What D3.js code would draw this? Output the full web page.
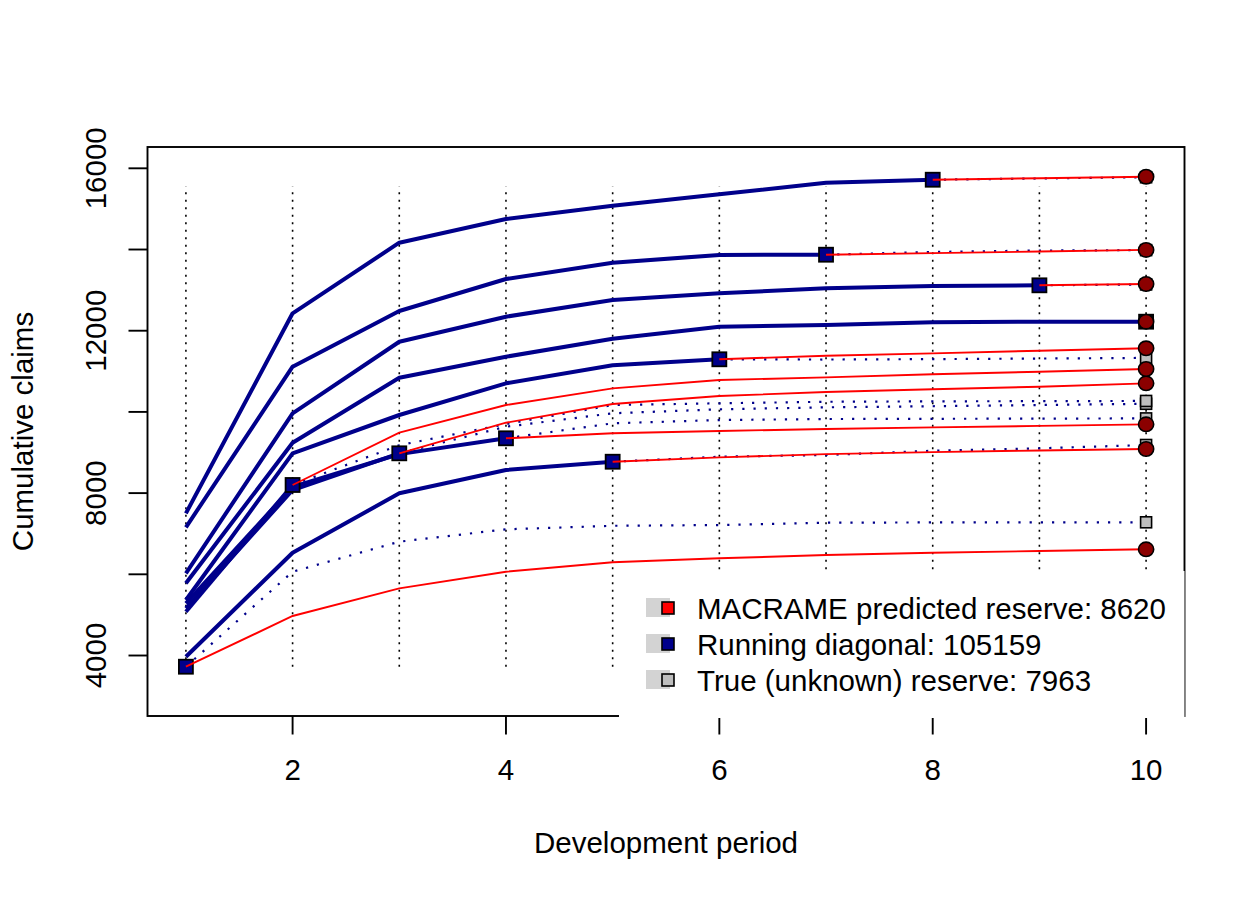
<!DOCTYPE html>
<html>
<head>
<meta charset="utf-8">
<script src="https://cdn.jsdelivr.net/npm/d3@7"></script>
<style>
  html, body { margin: 0; padding: 0; background: #fff; }
  svg { display: block; }
</style>
</head>
<body>
<div id="chart"></div>
<script>
// development periods and axis ticks
const periods = d3.range(1, 11);
const xTicks = [2, 4, 6, 8, 10];
const yTicks = [4000, 6000, 8000, 10000, 12000, 14000, 16000];
const yLabels = [4000, 8000, 12000, 16000];

// observed cumulative claims per origin year (periods 1..k)
const observed = [
  [5778, 9241, 10842, 11360, 11803, 12099, 12140, 12207, 12222, 12222],
  [6025, 9966, 11729, 12345, 12756, 12921, 13044, 13100, 13118],
  [7502, 12429, 14168, 14751, 15079, 15360, 15645, 15719],
  [7157, 11113, 12485, 13274, 13675, 13867, 13872],
  [5367, 8980, 9924, 10704, 11148, 11296],
  [3970, 6532, 7995, 8569, 8773],
  [5286, 8150, 8960, 9350],
  [5163, 8076, 8980],
  [5079, 8200],
  [3724]
];

// MACRAME predictions, from the diagonal up to period 10
const predicted = [
  [12222],
  [13118, 13150],
  [15719, 15756, 15793],
  [13872, 13912, 13950, 13990],
  [11296, 11385, 11443, 11507, 11567],
  [8773, 8880, 8960, 9010, 9050, 9086],
  [9350, 9473, 9530, 9580, 9620, 9655, 9694],
  [8980, 9734, 10195, 10392, 10490, 10557, 10621, 10704],
  [8200, 9490, 10170, 10581, 10786, 10850, 10926, 10990, 11057],
  [3724, 4973, 5655, 6064, 6296, 6394, 6475, 6532, 6574, 6616]
];

// true (unknown) future values, from the diagonal up to period 10
const trueValues = [
  [12222],
  [13118, 13140],
  [15719, 15750, 15780],
  [13872, 13940, 13975, 13985],
  [11296, 11290, 11300, 11315, 11330],
  [8773, 8897, 8938, 9044, 9103, 9185],
  [9350, 9719, 9800, 9825, 9830, 9835, 9840],
  [8980, 9635, 9966, 10064, 10113, 10140, 10170, 10200],
  [8200, 9180, 9700, 10170, 10212, 10250, 10260, 10265, 10270],
  [3724, 6064, 6803, 7108, 7195, 7214, 7271, 7278, 7280, 7281]
];

// extent of the vertical guide lines
const guideRange = [3724, 15550];

const legendLabels = [
  "MACRAME predicted reserve: 8620",
  "Running diagonal: 105159",
  "True (unknown) reserve: 7963"
];
const legendColors = ["#FF0000", "#00008B", "#BEBEBE"];

const width = 1260;
const height = 900;
const FONT = "'Liberation Sans', Arial, Helvetica, sans-serif";
const FS = 29.5;

const x = d3.scaleLinear().domain([0.64, 10.36]).range([147.5, 1184.5]);
const y = d3.scaleLinear().domain([2510, 16525]).range([716, 147]);

const svg = d3.select("#chart")
  .append("svg")
  .attr("width", width)
  .attr("height", height)
  .attr("viewBox", `0 0 ${width} ${height}`);

function addText(px, py, str, anchor, rotate) {
  return svg.append("text")
    .attr("transform", `translate(${px},${py})` + (rotate ? " rotate(-90)" : ""))
    .attr("text-anchor", anchor)
    .attr("font-family", FONT)
    .attr("font-size", FS)
    .attr("fill", "#000")
    .text(str);
}

// vertical dotted guides
svg.append("g")
  .selectAll("line")
  .data(periods)
  .join("line")
  .attr("x1", d => x(d))
  .attr("x2", d => x(d))
  .attr("y1", y(guideRange[0]))
  .attr("y2", y(guideRange[1]))
  .attr("stroke", "#000")
  .attr("stroke-width", 1.6)
  .attr("stroke-dasharray", "1.9,5.6");

// helper: series starting at a given period
function pts(vals, start) {
  return vals.map((v, i) => [start + i, v]);
}
const line = d3.line().x(d => x(d[0])).y(d => y(d[1]));

// true values, dotted dark blue
svg.append("g")
  .selectAll("path")
  .data(trueValues.map((v, i) => pts(v, observed[i].length)))
  .join("path")
  .attr("d", line)
  .attr("fill", "none")
  .attr("stroke", "#00008B")
  .attr("stroke-width", 2.2)
  .attr("stroke-dasharray", "2.2,9");

// observed triangle, thick dark blue
svg.append("g")
  .selectAll("path")
  .data(observed.map(v => pts(v, 1)))
  .join("path")
  .attr("d", line)
  .attr("fill", "none")
  .attr("stroke", "#00008B")
  .attr("stroke-width", 4)
  .attr("stroke-linejoin", "round");

// running diagonal squares
const sq = 14;
svg.append("g")
  .selectAll("rect")
  .data(observed.map(v => [v.length, v[v.length - 1]]))
  .join("rect")
  .attr("x", d => x(d[0]) - sq / 2)
  .attr("y", d => y(d[1]) - sq / 2)
  .attr("width", sq)
  .attr("height", sq)
  .attr("fill", "#00008B")
  .attr("stroke", "#000")
  .attr("stroke-width", 1.8);

// predictions, thin red
svg.append("g")
  .selectAll("path")
  .data(predicted.map((v, i) => pts(v, observed[i].length)))
  .join("path")
  .attr("d", line)
  .attr("fill", "none")
  .attr("stroke", "#FF0000")
  .attr("stroke-width", 1.9);

// true ultimate, gray squares
svg.append("g")
  .selectAll("rect")
  .data(trueValues.map(v => v[v.length - 1]))
  .join("rect")
  .attr("x", x(10) - 5.5)
  .attr("y", d => y(d) - 5.5)
  .attr("width", 11)
  .attr("height", 11)
  .attr("fill", "#BEBEBE")
  .attr("stroke", "#000")
  .attr("stroke-width", 1.6);

// predicted ultimate, dark red circles
svg.append("g")
  .selectAll("ellipse")
  .data(predicted.map(v => v[v.length - 1]))
  .join("ellipse")
  .attr("cx", x(10))
  .attr("cy", d => y(d))
  .attr("rx", 7.6)
  .attr("ry", 7.2)
  .attr("fill", "#8B0000")
  .attr("stroke", "#000")
  .attr("stroke-width", 1.6);

// plot frame
svg.append("rect")
  .attr("x", 147.5)
  .attr("y", 147)
  .attr("width", 1037)
  .attr("height", 569)
  .attr("fill", "none")
  .attr("stroke", "#000")
  .attr("stroke-width", 1.9);

// axes ticks
svg.append("g")
  .selectAll("line")
  .data(xTicks)
  .join("line")
  .attr("x1", d => x(d)).attr("x2", d => x(d))
  .attr("y1", 716).attr("y2", 734.5)
  .attr("stroke", "#000").attr("stroke-width", 1.9);

svg.append("g")
  .selectAll("line")
  .data(yTicks)
  .join("line")
  .attr("x1", 128.5).attr("x2", 147.5)
  .attr("y1", d => y(d)).attr("y2", d => y(d))
  .attr("stroke", "#000").attr("stroke-width", 1.9);

// legend (white box over the lower right of the plot)
svg.append("rect")
  .attr("x", 619)
  .attr("y", 571)
  .attr("width", 1184.5 - 619)
  .attr("height", 147)
  .attr("fill", "#fff");

const legY = d3.scalePoint().domain(legendLabels).range([608, 680]);
const leg = svg.append("g");
leg.selectAll("rect.bg")
  .data(legendLabels)
  .join("rect")
  .attr("class", "bg")
  .attr("x", 646)
  .attr("y", d => legY(d) - 10)
  .attr("width", 24)
  .attr("height", 19)
  .attr("fill", "#D3D3D3");
leg.selectAll("rect.key")
  .data(legendLabels)
  .join("rect")
  .attr("class", "key")
  .attr("x", 662)
  .attr("y", d => legY(d) - 6)
  .attr("width", 12)
  .attr("height", 12)
  .attr("fill", (d, i) => legendColors[i])
  .attr("stroke", "#000")
  .attr("stroke-width", 1.6);
legendLabels.forEach(d => addText(697, legY(d) + 10.5, d, "start", false));

// tick labels
xTicks.forEach(t => addText(x(t), 780, String(t), "middle", false));
yLabels.forEach(t => addText(106, y(t), String(t), "middle", true));

// axis titles
addText(666, 853, "Development period", "middle", false);
addText(32.5, 431.5, "Cumulative claims", "middle", true);
</script>
</body>
</html>
